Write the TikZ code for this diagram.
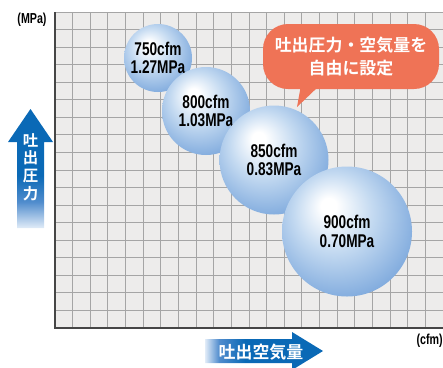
\documentclass[tikz,border=0pt]{standalone}
\usepackage{fontspec}
\setmainfont{Liberation Sans}[FakeStretch=0.74]
\newfontfamily\jpfont{Noto Sans CJK JP Bold}
\definecolor{gridbg}{RGB}{237,236,235}
\definecolor{gridln}{RGB}{165,165,165}
\definecolor{axisln}{RGB}{70,70,70}
\definecolor{calloutfill}{RGB}{239,115,86}
\definecolor{arrowblue}{RGB}{10,105,182}
\definecolor{arrowmid}{RGB}{80,140,205}
\definecolor{arrowpale}{RGB}{225,236,248}
\definecolor{bubmid}{RGB}{196,218,241}
\definecolor{bubedge}{RGB}{130,172,222}
\pgfdeclareradialshading{bubble}{\pgfpoint{-7.5bp}{10.5bp}}{color(0bp)=(white); color(3bp)=(white); color(15bp)=(bubmid); color(30bp)=(bubedge); color(50bp)=(bubedge)}
\pgfdeclareverticalshading{upfade}{100bp}{color(0bp)=(arrowpale); color(25bp)=(arrowpale); color(36bp)=(arrowmid); color(47bp)=(arrowblue); color(100bp)=(arrowblue)}
\pgfdeclarehorizontalshading{rightfade}{100bp}{color(0bp)=(arrowpale); color(25bp)=(arrowpale); color(31bp)=(arrowmid); color(42bp)=(arrowblue); color(100bp)=(arrowblue)}
\begin{document}
\begin{tikzpicture}
[x=1bp, y=-1bp,
 bubble/.style={circle, shading=bubble, inner sep=0pt, align=center,
   font=\bfseries\fontsize{18.5}{18.5}\selectfont},
 unit/.style={font=\bfseries\fontsize{14.5}{15}\selectfont, inner sep=0pt},
 jptext/.style={text=white, inner sep=0pt, align=center}]
\useasboundingbox (0,0) rectangle (443,367);

% grid
\fill[gridbg] (55,12) rectangle (443,328);
\foreach \i in {0,...,22}
  \draw[gridln, line width=1bp] ({55+\i*17.636},12) -- ({55+\i*17.636},328);
\foreach \j in {0,...,18}
  \draw[gridln, line width=1bp] (55,{12+\j*17.556}) -- (443,{12+\j*17.556});
\draw[axisln, line width=1.6bp] (55,12) -- (55,328) -- (443,328);

\node[unit] (mpa) at (32,20) {(MPa)};
\node[unit, anchor=east] (cfm) at (443,341) {(cfm)};

% bubbles
\node[bubble, minimum size=68bp] (b750) at (158,58) {750cfm\\1.27MPa};
\node[bubble, minimum size=88bp] (b800) at (206,111) {800cfm\\1.03MPa};
\node[bubble, minimum size=109bp] (b850) at (274,160) {850cfm\\0.83MPa};
\node[bubble, minimum size=130bp] (b900) at (347,231.5) {900cfm\\0.70MPa};

% callout
\node[fill=calloutfill, rounded corners=25bp, minimum width=176bp, minimum height=65bp,
  jptext, font=\jpfont\fontsize{17}{23}\selectfont] (callout) at (351,56.5)
  {吐出圧力・空気量を\\自由に設定};
\coordinate (tip) at (297,107);
\fill[calloutfill] (301,85) -- (tip) -- (320,85) -- cycle;

% axis arrows
\shade[shading=upfade] (17,228) -- (17,142) -- (8,142) -- (30.5,109) -- (53,142) -- (44,142) -- (44,228) -- cycle;
\node[jptext, font=\jpfont\fontsize{15.5}{17.7}\selectfont] (pressure) at (30.5,167) {吐\\出\\圧\\力};
\shade[shading=rightfade] (205,339) -- (292,339) -- (292,332) -- (323,351) -- (292,370) -- (292,363) -- (205,363) -- cycle;
\node[jptext, font=\jpfont\fontsize{17}{18}\selectfont] (airflow) at (261,352) {吐出空気量};
\end{tikzpicture}
\end{document}
